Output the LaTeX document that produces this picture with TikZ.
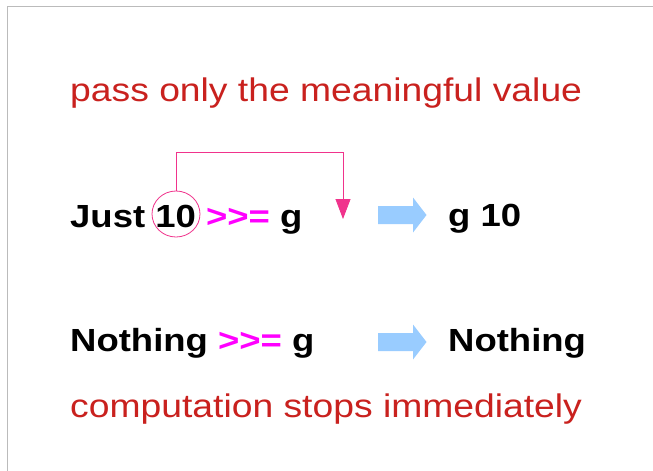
\documentclass[tikz,border=0pt]{standalone}
\usepackage{fontspec}
\setmainfont[FakeStretch=1.14]{Liberation Sans}
\usetikzlibrary{arrows.meta,shapes.geometric}
\definecolor{capred}{HTML}{C9211E}
\definecolor{bindmag}{HTML}{FF00FF}
\definecolor{linkpink}{HTML}{F0338C}
\definecolor{arrowblue}{HTML}{99CCFF}
\definecolor{framegray}{HTML}{BBBBBB}
\tikzset{
  caption/.style={anchor=base west, inner sep=0pt, text=capred, font=\fontsize{32.7}{38}\selectfont},
  expr/.style={anchor=base west, inner sep=0pt, text=black, font=\fontsize{32}{38}\selectfont\bfseries},
  ring/.style={ellipse, draw=linkpink, line width=0.8pt, minimum width=48pt, minimum height=46pt, inner sep=0pt},
  link/.style={draw=linkpink, line width=0.8pt, -{Triangle[width=15pt,length=20pt]}, shorten >=0pt},
  fatarrow/.style={fill=arrowblue, draw=none}
}
\newcommand{\blockarrow}[2]{%
  \fill[fatarrow] (#1,#2-9) -- (#1+35,#2-9) -- (#1+35,#2-17.5) -- (#1+48.5,#2) -- (#1+35,#2+17.5) -- (#1+35,#2+9) -- (#1,#2+9) -- cycle;}
\newcommand{\bindop}{{\color{bindmag}>{}>{}=}}
\begin{document}
\begin{tikzpicture}[x=1pt,y=-1pt]
\useasboundingbox (0,0) rectangle (653,471);
\fill[white] (0,0) rectangle (653,471);
\draw[framegray, line width=1.5pt] (7.5,471) -- (7.5,6.5) -- (653,6.5);

\node[caption] (top) at (70,101) {pass only the meaningful value};

\node[expr] (row1) at (70,227) {Just 10 \bindop{} g};
\node[ring] (ring) at (176,214) {};
\coordinate (corner) at (343,152);
\coordinate (tip) at (343,219);
\draw[link] (ring.north) |- (corner) -- (tip);
\blockarrow{378}{215}
\node[expr] (res1) at (448,226) {g 10};

\node[expr] (row2) at (70,351) {Nothing \bindop{} g};
\blockarrow{378}{342}
\node[expr] (res2) at (448,351) {Nothing};

\node[caption] (bottom) at (70,417) {computation stops immediately};
\end{tikzpicture}
\end{document}
